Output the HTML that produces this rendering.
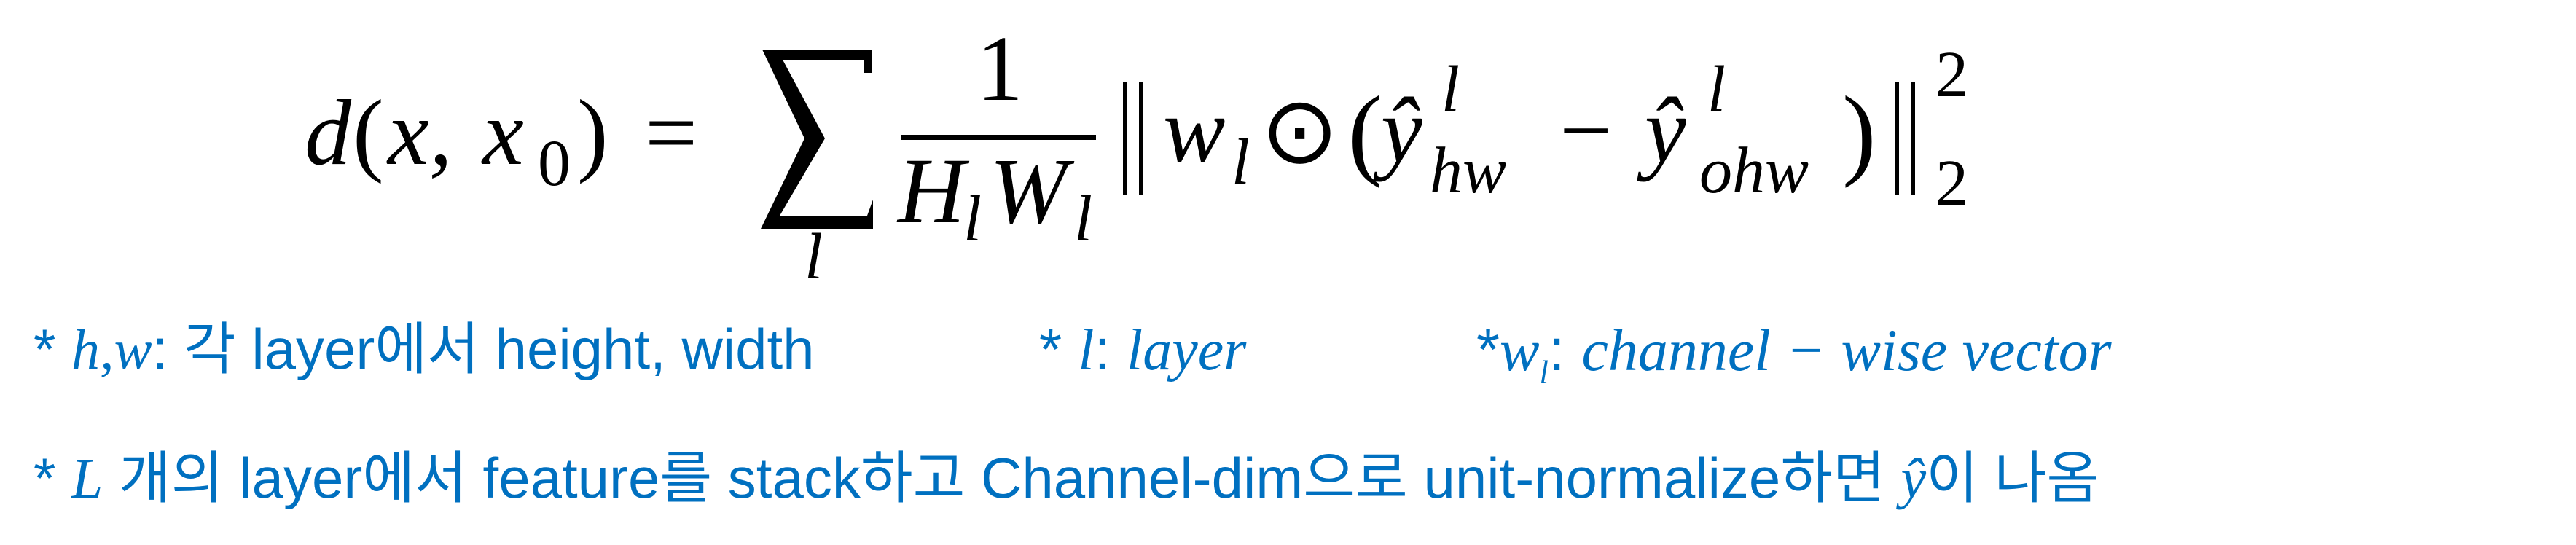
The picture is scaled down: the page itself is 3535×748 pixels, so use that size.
<!DOCTYPE html>
<html><head><meta charset="utf-8"><style>
body{margin:0;width:3535px;height:748px;background:#fff;position:relative;overflow:hidden}
.m{position:absolute;font-family:"Liberation Serif",serif;font-style:italic;color:#000;line-height:1;white-space:nowrap}
.u{font-style:normal}
.t{position:absolute;font-family:"Liberation Sans","Noto Sans CJK KR",sans-serif;color:#0070C0;font-size:78px;line-height:1;white-space:nowrap;transform-origin:0 0}
.t i{font-family:"Liberation Serif",serif}
</style></head><body>
<div class="m" style="left:418px;top:118px;font-size:128px">d</div>
<div class="m u" style="left:484px;top:118px;font-size:128px">(</div>
<div class="m" style="left:532px;top:118px;font-size:128px">x,</div>
<div class="m" style="left:662px;top:118px;font-size:128px">x</div>
<div class="m u" style="left:738px;top:180px;font-size:90px">0</div>
<div class="m u" style="left:792px;top:118px;font-size:128px">)</div>
<div class="m u" style="left:885px;top:118px;font-size:128px">=</div>
<svg style="position:absolute;left:1040px;top:64px" width="165" height="255"><polygon points="6,4 156,4 156,36 146,36 146,18 34,18 92,126 30,232 150,232 158,210 158,250 4,250 64,126" fill="#000"/></svg>
<div class="m" style="left:1104px;top:308px;font-size:90px">l</div>
<div class="m u" style="left:1340px;top:30px;font-size:128px">1</div>
<div style="position:absolute;left:1236px;top:185px;width:268px;height:7px;background:#000"></div>
<div class="m" style="left:1232px;top:198px;font-size:128px">H</div>
<div class="m" style="left:1322px;top:256px;font-size:90px">l</div>
<div class="m" style="left:1358px;top:198px;font-size:128px">W</div>
<div class="m" style="left:1474px;top:256px;font-size:90px">l</div>
<div style="position:absolute;left:1541px;top:113px;width:6px;height:154px;background:#000"></div>
<div style="position:absolute;left:1563px;top:113px;width:6px;height:154px;background:#000"></div>
<div class="m" style="left:1596px;top:115px;font-size:128px">w</div>
<div class="m" style="left:1690px;top:178px;font-size:90px">l</div>
<div class="m u" style="left:1730px;top:116px;font-size:128px">⊙</div>
<div class="m u" style="left:1850px;top:112px;font-size:140px">(</div>
<div class="m" style="left:1895px;top:115px;font-size:128px">ŷ</div>
<div class="m" style="left:1978px;top:78px;font-size:90px">l</div>
<div class="m" style="left:1962px;top:190px;font-size:90px">hw</div>
<div class="m u" style="left:2140px;top:115px;font-size:128px">−</div>
<div class="m" style="left:2257px;top:115px;font-size:128px">ŷ</div>
<div class="m" style="left:2343px;top:78px;font-size:90px">l</div>
<div class="m" style="left:2332px;top:190px;font-size:90px">ohw</div>
<div class="m u" style="left:2528px;top:112px;font-size:140px">)</div>
<div style="position:absolute;left:2600px;top:113px;width:6px;height:154px;background:#000"></div>
<div style="position:absolute;left:2622px;top:113px;width:6px;height:154px;background:#000"></div>
<div class="m u" style="left:2656px;top:58px;font-size:90px">2</div>
<div class="m u" style="left:2656px;top:207px;font-size:90px">2</div>
<div class="t" style="left:46px;top:440px">* <i>h,w</i>: 각 layer에서 height, width</div>
<div class="t" style="left:1426px;top:440px;font-size:80px">* <i>l</i>: <i>layer</i></div>
<div class="t" style="left:2026px;top:440px;font-size:82px">*<i>w<sub style="font-size:44px">l</sub></i>: <i>channel − wise vector</i></div>
<div class="t" style="left:46px;top:617px">* <i>L</i> 개의 layer에서 feature를 stack하고 Channel-dim으로 unit-normalize하면 <i>ŷ</i>이 나옴</div>
</body></html>
